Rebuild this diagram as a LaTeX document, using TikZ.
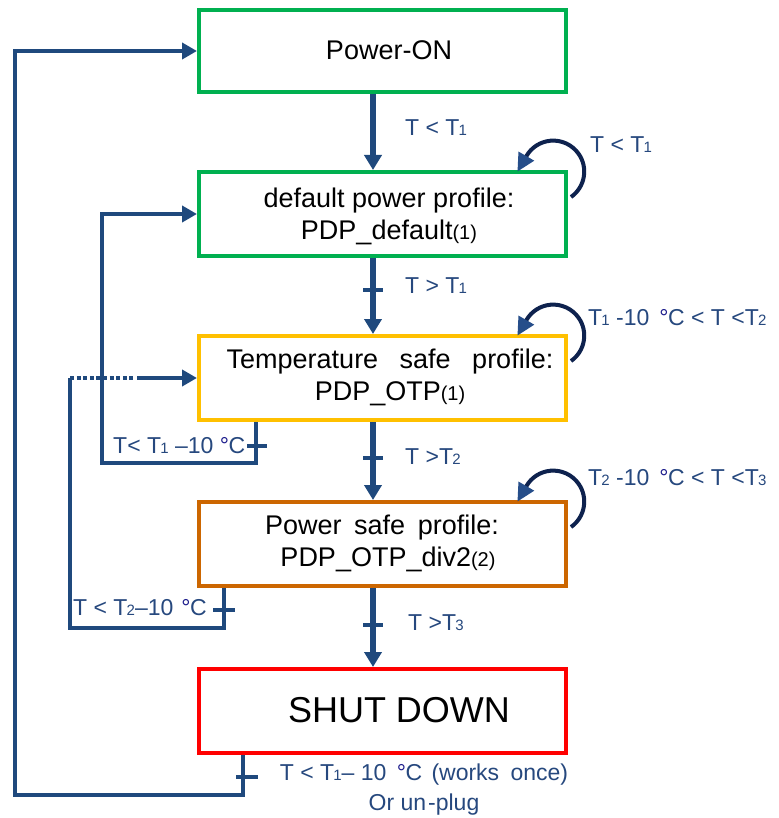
\documentclass[tikz,border=0pt]{standalone}
\usepackage{fontspec}
\setmainfont{Liberation Sans}
\usetikzlibrary{arrows.meta,calc}
\definecolor{lineblue}{RGB}{31,73,125}
\definecolor{loopnavy}{RGB}{14,34,78}
\definecolor{tipblue}{RGB}{38,78,138}
\definecolor{lblblue}{RGB}{38,72,126}
\definecolor{degnavy}{RGB}{28,28,140}
\definecolor{bgreen}{RGB}{0,176,80}
\definecolor{byellow}{RGB}{255,192,0}
\definecolor{borange}{RGB}{204,102,0}
\definecolor{bred}{RGB}{255,0,0}
\newcommand{\lowdig}[1]{\kern-0.8pt{\fontsize{15}{15}\selectfont #1}}
\newcommand{\paren}[1]{{\fontsize{20}{20}\selectfont #1}}
\newcommand{\degC}{{\color{degnavy}°}\kern-0.5pt C}
\begin{document}
\begin{tikzpicture}[x=1pt,y=-1pt,
  box/.style={draw=#1, line width=4pt, minimum width=367pt, minimum height=84pt, inner sep=0pt},
  txt/.style={font=\fontsize{27}{32}\selectfont, align=center, inner sep=0pt},
  lbl/.style={font=\fontsize{23}{30}\selectfont, text=lblblue, inner sep=0pt, anchor=west},
  conn/.style={draw=lineblue, line width=6pt, -{Triangle[width=17pt,length=15pt]}},
  fb/.style={draw=lineblue, line width=4.5pt},
  fbarrow/.style={fb, -{Triangle[width=16pt,length=15pt]}},
  tickmark/.style={draw=lineblue, line width=4pt},
  selfloop/.style={draw=loopnavy, line width=4pt, -{Triangle[width=17pt,length=18pt,color=tipblue]}},
]
\fill[white] (0,0) rectangle (778,818);
\useasboundingbox (0,0) rectangle (778,818);

% boxes
\node[box=bgreen, minimum height=82pt] (on) at (382.5,51) {};
\node[box=bgreen] (def) at (382.5,214) {};
\node[box=byellow] (tmp) at (382.5,378) {};
\node[box=borange] (pwr) at (382.5,544) {};
\node[box=bred] (sd) at (382.5,711) {};

% box texts
\node[txt] (ontxt) at (389,50) {Power-ON};
\node[txt] (deftxt) at (389,216) {default power profile:\\PDP\_default\paren{(1)}};
\node[txt] (tmptxt) at (390,377) {Temperature\hspace{14pt} safe\hspace{14pt} profile:\\PDP\_OTP\paren{(1)}};
\node[txt] (pwrtxt) at (382,543) {Power\hspace{5pt} safe\hspace{5pt} profile:\\\hspace{12pt}PDP\_OTP\_div2\paren{(2)}};
\node[txt, font=\fontsize{36}{40}\selectfont] (sdtxt) at (399,710) {SHUT DOWN};

% main connectors
\coordinate (cx) at (373,0);
\draw[conn] (on.south -| cx) -- (def.north -| cx);
\draw[conn] (def.south -| cx) -- (tmp.north -| cx);
\draw[conn] (tmp.south -| cx) -- (pwr.north -| cx);
\draw[conn] (pwr.south -| cx) -- (sd.north -| cx);
\draw[tickmark] ([xshift=-10pt,yshift=-32pt]def.south -| cx) -- ++(20,0);
\draw[tickmark] ([xshift=-10pt,yshift=-36pt]tmp.south -| cx) -- ++(20,0);
\draw[tickmark] ([xshift=-10pt,yshift=-37pt]pwr.south -| cx) -- ++(20,0);

% self loops
\draw[selfloop] ([xshift=3pt,yshift=-27pt]def.north east) arc[start angle=55, end angle=-150, radius=31] -- ++(-9,15.6);
\draw[selfloop] ([xshift=3pt,yshift=-27pt]tmp.north east) arc[start angle=55, end angle=-150, radius=31] -- ++(-9,15.6);
\draw[selfloop] ([xshift=3pt,yshift=-27pt]pwr.north east) arc[start angle=55, end angle=-150, radius=31] -- ++(-9,15.6);

% feedback: temperature -> default
\draw[fbarrow] ([xshift=-126.5pt]tmp.south) -- ++(0,41) -| (102,214) -- (def.west);
\draw[tickmark] ([xshift=-135.5pt,yshift=-24pt]tmp.south) -- ++(20,0);

% feedback: power safe -> temperature
\draw[fb] ([xshift=-158.5pt]pwr.south) -- ++(0,40) -| (70,378) coordinate (dotstart);
\draw[fb, dash pattern=on 4pt off 2.6pt] (dotstart) -- (134,378);
\draw[fbarrow] (137,378) -- (tmp.west);
\draw[tickmark] ([xshift=-169.5pt,yshift=-22pt]pwr.south) -- ++(22,0);

% feedback: shut down -> power on
\draw[fbarrow] ([xshift=-139.5pt]sd.south) -- ++(0,40) -| (15,51) -- (on.west);
\draw[tickmark] ([xshift=-146.5pt,yshift=-22pt]sd.south) -- ++(22,0);

% labels
\node[lbl] (l1) at (405,128) {T < T\lowdig{1}};
\node[lbl] (l2) at (590,145) {T < T\lowdig{1}};
\node[lbl] (l3) at (405,286) {T > T\lowdig{1}};
\node[lbl] (l4) at (588,318) {T\lowdig{1} -10\hspace{10pt}\degC\ < T <T\lowdig{2}};
\node[lbl] (l5) at (405,457) {T >T\lowdig{2}};
\node[lbl] (l6) at (588,478) {T\lowdig{2} -10\hspace{10pt}\degC\ < T <T\lowdig{3}};
\node[lbl] (l7) at (408,623) {T >T\lowdig{3}};
\node[lbl] (l8) at (113,446) {T< T\lowdig{1} –10 \degC};
\node[lbl] (l9) at (73,608) {T < T\lowdig{2}–10\hspace{8pt}\degC};
\node[lbl, anchor=center, align=center] (l10) at (424,790) {T < T\lowdig{1}– 10\hspace{4pt} \degC\hspace{3pt} (works\hspace{5pt} once)\\Or un\kern2pt-plug};
\end{tikzpicture}
\end{document}
